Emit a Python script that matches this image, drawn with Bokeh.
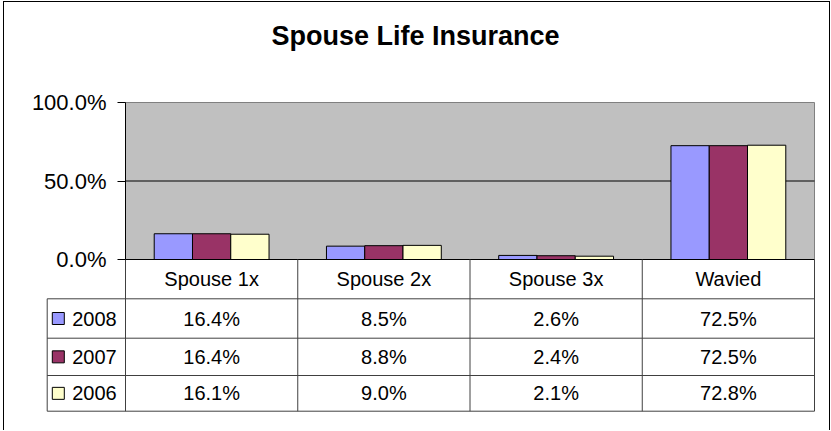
from bokeh.plotting import figure
from bokeh.models import ColumnDataSource, Range1d, FixedTicker, PrintfTickFormatter, LinearAxis
from bokeh.transform import dodge
from bokeh.layouts import column
from bokeh.core.properties import value
from bokeh.embed import file_html
from bokeh.resources import INLINE

# ---------------- data ----------------
categories = ["Spouse 1x", "Spouse 2x", "Spouse 3x", "Wavied"]
years = ["2008", "2007", "2006"]
v2008 = [16.4, 8.5, 2.6, 72.5]
v2007 = [16.4, 8.8, 2.4, 72.5]
v2006 = [16.1, 9.0, 2.1, 72.8]
y_ticks = [0, 50, 100]
title_text = "Spouse Life Insurance"

# ---------------- style / layout ----------------
colors = ["#9999FF", "#993366", "#FFFFCC"]
FONT = "Liberation Sans"
W, H = 830, 430
FRAME_TOP = 60                 # px, top of the drawing frame (title sits above)
X0_PX, X4_PX = 125.0, 814.0    # plot-area left / right (px)
Y0_PX, Y100_PX = 259.0, 102.0  # plot-area bottom / top (px)
PXX = (X4_PX - X0_PX) / 4.0    # px per category
PXY = (Y0_PX - Y100_PX) / 100  # px per percent
LEG_LEFT_PX = 46.7
ROW_EDGES_PX = [259.0, 298.3, 337.7, 375.0, 410.7]   # table row borders (px)
BAR_W = 1 / 4.5                # Excel gap width 150 %
LINE = "#404040"


def ux(px):
    return (px - X0_PX) / PXX


def uy(px):
    return (Y0_PX - px) / PXY


n_cat = len(categories)
n_rows = len(years)
series = [v2008, v2007, v2006]
xc = [i + 0.5 for i in range(n_cat)]
src = ColumnDataSource(dict(xc=xc, cat=categories, y2008=v2008, y2007=v2007, y2006=v2006))

p = figure(width=W, height=H,
           x_range=Range1d(ux(0), ux(W)), y_range=Range1d(uy(H), uy(FRAME_TOP)),
           x_axis_location=None, y_axis_location=None,
           output_backend="svg", toolbar_location=None,
           min_border_left=0, min_border_right=0, min_border_top=FRAME_TOP, min_border_bottom=0)
p.grid.visible = False
p.outline_line_color = None
p.background_fill_color = None
p.border_fill_color = None

# plot area
p.quad(left=[0], right=[n_cat], bottom=[y_ticks[0]], top=[y_ticks[-1]],
       fill_color="#C0C0C0", line_color="#808080", line_width=1)
# gridlines (inner ticks)
mid = y_ticks[1:-1]
p.segment(x0=[0] * len(mid), x1=[n_cat] * len(mid), y0=mid, y1=mid, line_color="black", line_width=1)

# bars
for i, yr in enumerate(years):
    p.vbar(x=dodge("xc", (i - 1) * BAR_W), top="y" + yr, width=BAR_W, bottom=0,
           source=src, fill_color=colors[i], line_color="black", line_width=1)

# category-axis line
p.segment(x0=[0], x1=[n_cat], y0=[y_ticks[0]], y1=[y_ticks[0]], line_color="black", line_width=1)

# value axis
ax = LinearAxis(fixed_location=0, bounds=(y_ticks[0], y_ticks[-1]),
                ticker=FixedTicker(ticks=y_ticks), formatter=PrintfTickFormatter(format="%.1f%%"))
ax.major_label_text_font = FONT
ax.major_label_text_font_size = "22px"
ax.major_label_text_color = "black"
ax.axis_line_color = "black"
ax.major_tick_line_color = "black"
ax.major_tick_out = 8
ax.major_tick_in = 0
ax.minor_tick_line_color = None
ax.major_label_standoff = 11
p.add_layout(ax, "left")

# title
p.title.text = title_text
p.title.text_font = FONT
p.title.text_font_size = "27px"
p.title.text_font_style = "bold"
p.title.text_color = "black"
p.title.align = "center"
p.title.standoff = 19

# ---------------- data table ----------------
row_y = [uy(v) for v in ROW_EDGES_PX]
leg_x = ux(LEG_LEFT_PX)
# horizontal rules (below header)
hy = row_y[1:]
p.segment(x0=[leg_x] * len(hy), x1=[n_cat] * len(hy), y0=hy, y1=hy, line_color=LINE, line_width=1)
# vertical rules
p.segment(x0=[leg_x], x1=[leg_x], y0=[row_y[1]], y1=[row_y[-1]], line_color=LINE, line_width=1)
vx = list(range(n_cat + 1))
p.segment(x0=vx, x1=vx, y0=[row_y[0]] * len(vx), y1=[row_y[-1]] * len(vx), line_color=LINE, line_width=1)

centers = [(row_y[k] + row_y[k + 1]) / 2 for k in range(len(row_y) - 1)]
# header
p.text(x=xc, y=[centers[0]] * n_cat, text=categories, text_align="center",
       text_baseline="middle", text_font=value(FONT), text_font_size="20px", text_color="black")
# values
for r, vals in enumerate(series):
    p.text(x=xc, y=[centers[r + 1]] * n_cat, text=[f"{v:.1f}%" for v in vals], text_align="center",
           text_baseline="middle", text_font=value(FONT), text_font_size="20px", text_color="black")
# legend column
p.scatter(x=[ux(57.8)] * n_rows, y=centers[1:], marker="square", size=12,
          fill_color=colors, line_color="black", line_width=1)
p.text(x=[ux(71.7)] * n_rows, y=centers[1:], text=years, text_align="left",
       text_baseline="middle", text_font=value(FONT), text_font_size="20px", text_color="black")

layout = column(p, styles={"box-shadow": "inset 3px 1px 0 0 #ffffff, inset 4px 2px 0 0 #000000, inset -1px 0 0 0 #000000"})

open("out.html", "w").write(file_html(layout, INLINE))
